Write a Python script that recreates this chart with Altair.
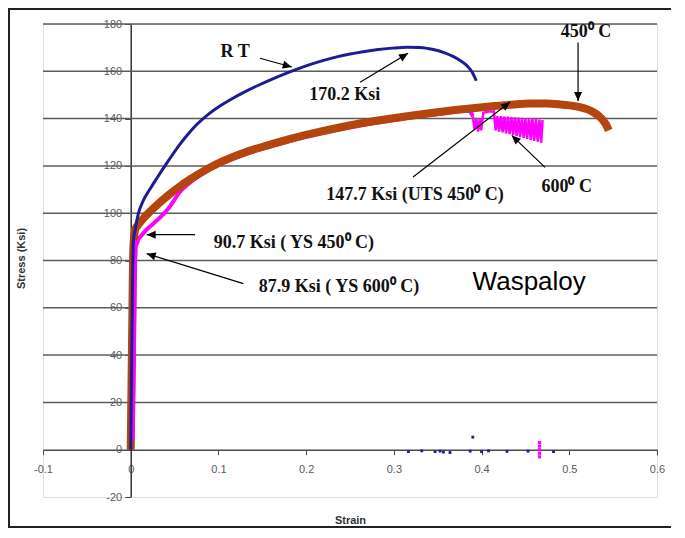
import math
import altair as alt
import pandas as pd

# ---------------- data ----------------
# Room temperature curve (blue)
rt_strain = [0, 0.001, 0.002, 0.003, 0.005, 0.0087, 0.0144, 0.022, 0.030, 0.039,
             0.047, 0.056, 0.065, 0.075, 0.087, 0.10, 0.115, 0.13, 0.145, 0.16,
             0.175, 0.189, 0.205, 0.22, 0.235, 0.25, 0.265, 0.28, 0.298, 0.315,
             0.33, 0.345, 0.358, 0.368, 0.376, 0.383, 0.389, 0.394]
rt_stress = [0, 35, 70, 88, 93, 99.8, 105.4, 110.2, 114.9, 120,
             124.4, 129.1, 133.3, 137.4, 141.4, 144.9, 148.3, 151.3, 154.0, 156.5,
             158.8, 160.8, 162.9, 164.6, 166.1, 167.3, 168.3, 169.1, 169.8, 170.2,
             170.1, 169.2, 167.8, 166.2, 164.5, 162.5, 159.8, 156]

# 450 C curve (brown)
t450_strain = [0, 0.0015, 0.003, 0.005, 0.008, 0.012, 0.017, 0.022, 0.030, 0.041,
               0.054, 0.068, 0.083, 0.098, 0.115, 0.13, 0.155, 0.178, 0.205, 0.23,
               0.257, 0.284, 0.315, 0.345, 0.37, 0.39, 0.415, 0.436, 0.455, 0.474,
               0.49, 0.50, 0.512, 0.52, 0.527, 0.533, 0.538, 0.542, 0.545]
t450_stress = [0, 45, 85, 93, 94.8, 96.7, 98.8, 100.7, 103.5, 107,
               110.8, 114.4, 117.8, 120.8, 123.6, 125.7, 128.6, 131, 133.5, 135.6,
               137.6, 139.3, 141, 142.5, 143.6, 144.4, 145.3, 146, 146.4, 146.4,
               146, 145.6, 144.9, 144, 142.8, 141.3, 139.5, 137.4, 135]

# 600 C curve (magenta): elastic part, smooth plastic part, then serrated part
t600_el_strain = [0.0015, 0.003, 0.004, 0.005, 0.008]
t600_el_stress = [4, 40, 75, 86, 88.5]
t600_strain = [0.005, 0.008, 0.012, 0.018, 0.024, 0.030, 0.037,
               0.045, 0.055, 0.07, 0.085, 0.10, 0.13, 0.16, 0.20, 0.25, 0.30,
               0.35, 0.385, 0.390]
t600_stress = [86, 88.5, 90.5, 93, 95, 97, 99.5,
               103, 108.5, 113.6, 117.4, 120.3, 124.9, 128.3, 132.3, 136.3, 139.4,
               141.9, 143.4, 141]
t600_serr_strain = [0.390, 0.392, 0.394, 0.396, 0.398, 0.3995, 0.402, 0.408, 0.414, 0.416,
                    0.418, 0.420, 0.422, 0.424, 0.426, 0.428, 0.430, 0.432, 0.434, 0.436,
                    0.438, 0.440, 0.442, 0.444, 0.446, 0.448, 0.450, 0.452, 0.454, 0.456,
                    0.458, 0.460, 0.462, 0.464, 0.466, 0.468, 0.4695]
t600_serr_stress = [141, 135.5, 140, 134.5, 140, 135, 142.5, 143, 143, 135,
                    141, 134.5, 141, 134.2, 140.8, 133.8, 140.8, 133.4, 140.6, 133,
                    140.5, 132.6, 140.4, 132.2, 140.3, 131.8, 140.2, 131.4, 140, 131,
                    140, 130.6, 139.8, 130.2, 139.6, 129.8, 139.4]

# scattered post-fracture points near zero stress
rt_tail_strain = [0.3166, 0.3318, 0.347, 0.3527, 0.3565, 0.364, 0.387, 0.390,
                  0.400, 0.408, 0.429, 0.453, 0.482]
rt_tail_stress = [-0.8, -0.5, -0.8, -0.6, -1.0, -1.2, -0.6, 5.3,
                  -0.8, -0.5, -0.7, -0.6, -0.8]
t600_tail_strain = [0.466, 0.466, 0.466, 0.466, 0.466]
t600_tail_stress = [-3, -1.5, 0, 1.5, 3]

# axes
x_ticks = [-0.1, 0, 0.1, 0.2, 0.3, 0.4, 0.5, 0.6]
y_ticks = [-20, 0, 20, 40, 60, 80, 100, 120, 140, 160, 180]
grid_levels = [20, 40, 60, 80, 100, 120, 140, 160, 180]

# annotation texts
note_text = ["R T", "170.2 Ksi", "450\u2070 C", "147.7 Ksi (UTS 450\u2070 C)", "600\u2070 C",
             "90.7 Ksi ( YS 450\u2070 C)", "87.9 Ksi ( YS 600\u2070 C)"]
note_strain = [0.119, 0.244, 0.519, 0.324, 0.497, 0.186, 0.2375]
note_stress = [168.1, 149.8, 176.5, 107.5, 111.0, 87.2, 69.0]

# arrows (from -> to)
arrow_x1 = [0.1474, 0.2615, 0.510, 0.3219, 0.4724, 0.0733, 0.1284]
arrow_y1 = [165.5, 155.4, 172.2, 115.3, 119.4, 90.9, 70.2]
arrow_x2 = [0.1836, 0.3162, 0.510, 0.4325, 0.4344, 0.0182, 0.0182]
arrow_y2 = [161.8, 167.6, 147.4, 147.0, 132.9, 90.9, 82.9]

label_text = ["Waspaloy"]
label_strain = [0.4543]
label_stress = [70.9]

# ---------------- chart ----------------
W, H = 614, 473
XD = [-0.1, 0.6]
YD = [-20, 180]
px_x = W / (XD[1] - XD[0])
px_y = H / (YD[1] - YD[0])

xs = alt.Scale(domain=XD, nice=False, zero=False)
ys = alt.Scale(domain=YD, nice=False, zero=False)

def series(strain, stress):
    return pd.DataFrame({"strain": strain, "stress": stress, "order": range(len(strain))})

df_rt = series(rt_strain, rt_stress)
df_450 = series(t450_strain, t450_stress)
df_600e = series(t600_el_strain, t600_el_stress)
df_600 = series(t600_strain, t600_stress)
df_600s = series(t600_serr_strain, t600_serr_stress)
df_rt_tail = series(rt_tail_strain, rt_tail_stress)
df_600_tail = series(t600_tail_strain, t600_tail_stress)

angles = []
for a, b, c, d in zip(arrow_x1, arrow_y1, arrow_x2, arrow_y2):
    dx = (c - a) * px_x
    dy = (d - b) * px_y
    angles.append(math.degrees(math.atan2(dx, dy)) % 360)
df_arrows = pd.DataFrame({"x1": arrow_x1, "y1": arrow_y1, "x2": arrow_x2,
                          "y2": arrow_y2, "angle": angles})
df_notes = pd.DataFrame({"text": note_text, "strain": note_strain, "stress": note_stress})
df_label = pd.DataFrame({"text": label_text, "strain": label_strain, "stress": label_stress})
df_grid = pd.DataFrame({"level": grid_levels})

x_axis = alt.Axis(
    values=x_ticks, offset=-(0 - YD[0]) * px_y, grid=False,
    domainColor="#4a4a4a", domainWidth=1.5, tickColor="#4a4a4a", tickSize=5, tickWidth=1,
    labelPadding=9, labelFont="Liberation Sans", labelFontSize=11, labelColor="#5a5a5a",
    labelFlush=False, labelOverlap=False,
    labelExpr="(datum.value < 0 ? '-' : '') + format(abs(datum.value), '.1~f')",
    title="Strain", titleFont="Liberation Sans", titleFontSize=11, titleFontWeight="bold",
    titleColor="#333333", titleX=307, titleY=71, titleAlign="center", titleBaseline="middle",
)
y_axis = alt.Axis(
    values=y_ticks, offset=-(0 - XD[0]) * px_x, grid=False,
    domainColor="#333333", domainWidth=1.5, tickColor="#4a4a4a", tickSize=6, tickWidth=1,
    labelPadding=3, labelFont="Liberation Sans", labelFontSize=11, labelColor="#5a5a5a",
    labelFlush=False, labelOverlap=False,
    labelExpr="(datum.value < 0 ? '-' : '') + format(abs(datum.value), 'd')",
    title="Stress (Ksi)", titleFont="Liberation Sans", titleFontSize=11, titleFontWeight="bold",
    titleColor="#333333", titleX=-109, titleY=234, titleAngle=270, titleAlign="center",
    titleBaseline="middle",
)

X = alt.X("strain:Q", scale=xs, axis=x_axis)
Y = alt.Y("stress:Q", scale=ys, axis=y_axis)

grid = alt.Chart(df_grid).mark_rule(color="#5c5c5c", strokeWidth=1.5).encode(
    y=alt.Y("level:Q", scale=ys), x=alt.value(0), x2=alt.value(W))

line600 = alt.Chart(df_600).mark_line(color="#ff00ff", strokeWidth=4, interpolate="monotone").encode(
    x=X, y=Y, order="order:Q")
line600s = alt.Chart(df_600s).mark_line(color="#ff00ff", strokeWidth=2.5).encode(
    x=X, y=Y, order="order:Q")
line450 = alt.Chart(df_450).mark_line(color="#b4450e", strokeWidth=8, interpolate="monotone").encode(
    x=X, y=Y, order="order:Q")
line600e = alt.Chart(df_600e).mark_line(color="#ff00ff", strokeWidth=5).encode(
    x=X, y=Y, order="order:Q")
linert = alt.Chart(df_rt).mark_line(color="#1c1c96", strokeWidth=3, interpolate="monotone").encode(
    x=X, y=Y, order="order:Q")
tail_rt = alt.Chart(df_rt_tail).mark_point(shape="square", filled=True, size=8,
                                           color="#1c1c96", opacity=1).encode(x=X, y=Y)
tail_600 = alt.Chart(df_600_tail).mark_point(shape="square", filled=True, size=10,
                                             color="#ff00ff", opacity=1).encode(x=X, y=Y)

arrows = alt.Chart(df_arrows).mark_rule(color="black", strokeWidth=1.2).encode(
    x=alt.X("x1:Q", scale=xs), y=alt.Y("y1:Q", scale=ys),
    x2="x2:Q", y2="y2:Q")
heads = alt.Chart(df_arrows).mark_point(
    shape="M0,0 L0.8,1.8 L-0.8,1.8 Z", filled=True, size=100, color="black", opacity=1
).encode(x=alt.X("x2:Q", scale=xs), y=alt.Y("y2:Q", scale=ys),
         angle=alt.Angle("angle:Q", scale=None))

notes = alt.Chart(df_notes).mark_text(
    font="Liberation Serif", fontWeight="bold", fontSize=18, color="#111111",
    align="center", baseline="middle"
).encode(x=alt.X("strain:Q", scale=xs), y=alt.Y("stress:Q", scale=ys), text="text:N")

label = alt.Chart(df_label).mark_text(
    font="Liberation Sans", fontSize=26, color="#000000", align="center", baseline="middle"
).encode(x=alt.X("strain:Q", scale=xs), y=alt.Y("stress:Q", scale=ys), text="text:N")

frame = alt.Chart(pd.DataFrame({"k": [0]})).mark_rect(
    fillOpacity=0, stroke="#222222", strokeWidth=2, clip=False
).encode(x=alt.value(-34), x2=alt.value(W + 60), y=alt.value(-15), y2=alt.value(H + 30))

chart = alt.layer(
    grid, line600, line600s, line450, line600e, linert, tail_rt, tail_600,
    arrows, heads, notes, label, frame
).properties(
    width=W, height=H,
    autosize=alt.AutoSizeParams(type="none"),
    padding={"left": 35, "top": 16, "right": 14, "bottom": 31},
).configure_view(
    fill="#c6c6c6", stroke=None
).configure(background="#ffffff")

chart.save("out.html", embed_options={"renderer": "svg", "actions": False})
